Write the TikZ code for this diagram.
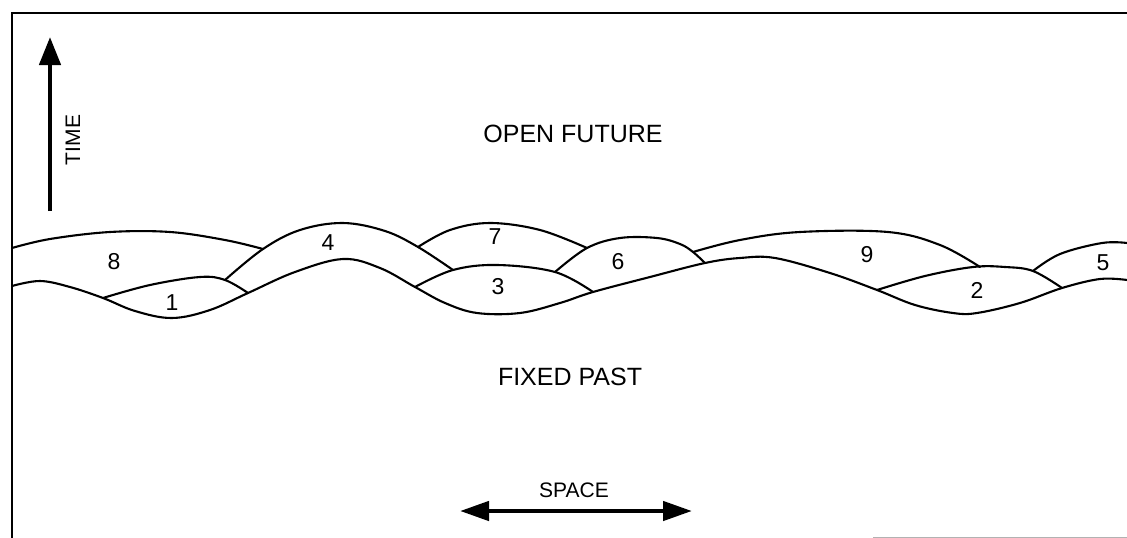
\documentclass[tikz,border=0pt]{standalone}
\usepackage{fontspec}
\setmainfont{Liberation Sans}
\usetikzlibrary{arrows.meta}
\begin{document}
\begin{tikzpicture}[x=1pt,y=-1pt,
  event/.style={line width=2.1pt,line join=round,line cap=round},
  region/.style={font=\fontsize{25}{30}\selectfont,inner sep=0pt},
  axislabel/.style={font=\fontsize{21}{25}\selectfont,inner sep=0pt},
  num/.style={font=\fontsize{23}{27}\selectfont,inner sep=0pt},
  bigarrow/.style={line width=4.5pt}]
\useasboundingbox (0,0) rectangle (1127,538);

% frame
\draw[line width=2.2pt] (12,538) -- (12,13) -- (1127,13);
\draw[gray!60,line width=1pt] (873,537.5) -- (1127,537.5);

% time and space axes
\coordinate (tfoot) at (50,211);
\coordinate (thead) at (50,37);
\draw[bigarrow,-{Triangle[length=28pt,width=21pt]}] (tfoot) -- (thead);
\node[axislabel,rotate=90] (time) at (73,140) {TIME};

\coordinate (sleft) at (460,511);
\coordinate (sright) at (692,511);
\draw[bigarrow,{Triangle[length=29pt,width=19pt]}-{Triangle[length=29pt,width=19pt]}] (sleft) -- (sright);
\node[axislabel] (space) at (574,490) {SPACE};

% region labels
\node[region] (future) at (573,134) {OPEN FUTURE};
\node[region] (past) at (570,377) {FIXED PAST};

% boundary of the fixed past
\draw[event] plot[smooth,tension=0.6] coordinates {
  (12,286) (40,281) (70,287) (103,298) (135,311) (172,318) (210,310)
  (248,293) (295,272) (343,259) (380,268) (415,287) (445,303) (477,313)
  (520,313) (560,303) (593,292) (650,277) (705,263) (740,258) (775,258)
  (830,273) (877,290) (915,305) (953,313) (977,313) (1020,303) (1062,288)
  (1100,279) (1127,280)};

% event boundaries
\draw[event] plot[smooth,tension=0.6] coordinates {
  (12,248) (50,239) (110,232) (170,232) (225,240) (263,249)};
\draw[event] plot[smooth,tension=0.6] coordinates {
  (225,280) (263,249) (300,230) (343,223) (385,231) (418,247) (453,270)};
\draw[event] plot[smooth,tension=0.6] coordinates {
  (418,247) (450,230) (490,223) (540,230) (587,248)};
\draw[event] plot[smooth,tension=0.6] coordinates {
  (555,272) (587,248) (620,238) (657,238) (680,244) (693,252) (705,263)};
\draw[event] plot[smooth,tension=0.6] coordinates {
  (693,252) (740,240) (800,232) (888,232) (940,245) (980,267)};
\draw[event] plot[smooth,tension=0.6] coordinates {
  (877,290) (925,276) (973,267) (1005,267) (1033,271) (1062,288)};
\draw[event] plot[smooth,tension=0.6] coordinates {
  (1033,271) (1060,254) (1102,243) (1127,243)};
\draw[event] plot[smooth,tension=0.6] coordinates {
  (103,298) (150,285) (200,277) (225,280) (248,293)};
\draw[event] plot[smooth,tension=0.6] coordinates {
  (415,287) (453,270) (497,265) (555,272) (593,292)};

% event numbers
\node[num] (e8) at (114,262) {8};
\node[num] (e1) at (172,303) {1};
\node[num] (e4) at (328,243) {4};
\node[num] (e7) at (495,237) {7};
\node[num] (e3) at (498,287) {3};
\node[num] (e6) at (618,262) {6};
\node[num] (e9) at (867,255) {9};
\node[num] (e2) at (977,290) {2};
\node[num] (e5) at (1103,263) {5};
\end{tikzpicture}
\end{document}
